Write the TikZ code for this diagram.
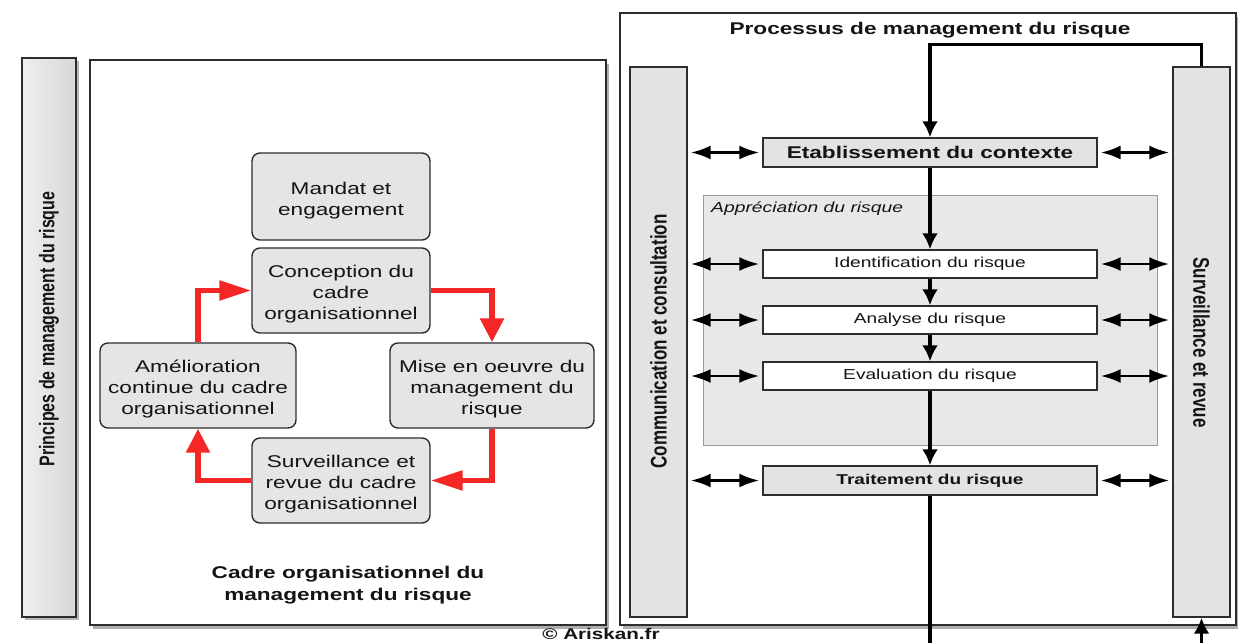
\documentclass[tikz,border=0pt]{standalone}
\usepackage{fontspec}
\setmainfont{Liberation Sans}
\usepackage{graphicx}
\usetikzlibrary{arrows.meta,shadows,calc}

\definecolor{cyclered}{RGB}{245,38,38}
\definecolor{inkline}{RGB}{45,45,45}

% the artwork is set in a widened sans serif
\newcommand{\stretchx}[1]{\scalebox{1.33}[1]{#1}}
\newcommand{\stretchv}[1]{\scalebox{1}[1.33]{#1}}
\newcommand{\lines}[1]{\begin{tabular}{@{}c@{}}#1\end{tabular}}
% box labels sit a little below the middle of their box
\newcommand{\cyclelines}[1]{\raisebox{-8.5pt}[0pt][0pt]{\lines{#1}}}
\newcommand{\boxfont}{\fontsize{17}{21}\selectfont}

\tikzset{
  panel/.style={draw=inkline, line width=1.5pt, fill=white,
    drop shadow={shadow xshift=3pt, shadow yshift=-4pt, opacity=0.45, fill=black!70}},
  sidebar/.style={draw=inkline, line width=1.4pt, fill=black!11, inner sep=0pt},
  cyclebox/.style={draw=inkline, line width=1.4pt, fill=black!10, rounded corners=8pt, inner sep=0pt},
  stagebox/.style={draw=inkline, line width=1.4pt, fill=black!11, inner sep=0pt, minimum width=334pt},
  substage/.style={draw=inkline, line width=1.4pt, fill=white, inner sep=0pt, minimum width=334pt, minimum height=28pt},
  flow/.style={line width=3.2pt, -{Latex[length=16pt,width=16pt]}},
  exchange/.style={line width=2.8pt, {Latex[length=20pt,width=14pt]}-{Latex[length=20pt,width=14pt]},
    shorten <=3pt, shorten >=3pt},
  cyclevert/.style={draw=cyclered, line width=5.5pt, -{Triangle[length=24pt,width=23pt]}},
  cyclehoriz/.style={draw=cyclered, line width=5.5pt, -{Triangle[length=32pt,width=19pt]}},
}

\begin{document}
\begin{tikzpicture}[x=1pt, y=-1pt, every node/.style={text=black!92}]
\useasboundingbox (0,0) rectangle (1238,642);
\fill[white] (0,0) rectangle (1238,642);

% ---------- left part: principles and framework ----------
\node[sidebar, minimum width=54pt, minimum height=559pt,
  drop shadow={shadow xshift=3pt, shadow yshift=-3pt, opacity=0.4, fill=black!70},
  left color=black!6, right color=black!16] (principes) at (49,337.5) {};
\node[rotate=90] (principestxt) at (49,329)
  {\stretchv{\fontsize{16}{19}\selectfont\bfseries Principes de management du risque}};

\node[panel, minimum width=516pt, minimum height=565pt, inner sep=0pt] (cadre) at (348,342.5) {};

\node[cyclebox, minimum width=178pt, minimum height=87pt] (mandat) at (341,196.5)
  {\stretchx{\boxfont\cyclelines{Mandat et\\engagement}}};
\node[cyclebox, minimum width=178pt, minimum height=85pt] (conception) at (341,290.5)
  {\stretchx{\boxfont\cyclelines{Conception du\\cadre\\organisationnel}}};
\node[cyclebox, minimum width=196pt, minimum height=85pt] (amelioration) at (198,385.5)
  {\stretchx{\boxfont\cyclelines{Amélioration\\continue du cadre\\organisationnel}}};
\node[cyclebox, minimum width=204pt, minimum height=85pt] (miseoeuvre) at (492,385.5)
  {\stretchx{\boxfont\cyclelines{Mise en oeuvre du\\management du\\risque}}};
\node[cyclebox, minimum width=178pt, minimum height=85pt] (surveillancecadre) at (341,480.5)
  {\stretchx{\boxfont\cyclelines{Surveillance et\\revue du cadre\\organisationnel}}};

\draw[cyclehoriz] (amelioration.north) |- (conception.west);
\draw[cyclevert] (conception.east) -| (miseoeuvre.north);
\draw[cyclehoriz] (miseoeuvre.south) |- (surveillancecadre.east);
\draw[cyclevert] (surveillancecadre.west) -| (amelioration.south);

\node (cadretitle) at (348,585)
  {\stretchx{\fontsize{17}{22}\selectfont\bfseries\lines{Cadre organisationnel du\\management du risque}}};

% ---------- right part: risk management process ----------
\node[panel, minimum width=616pt, minimum height=612pt, inner sep=0pt] (processus) at (928,319) {};
\node (processustitle) at (930,30)
  {\stretchx{\fontsize{17}{20}\selectfont\bfseries Processus de management du risque}};

\node[sidebar, minimum width=57pt, minimum height=550pt] (communication) at (658.5,342) {};
\node[rotate=90] (communicationtxt) at (658.5,341.5)
  {\stretchv{\fontsize{17}{20}\selectfont\bfseries Communication et consultation}};
\node[sidebar, minimum width=57pt, minimum height=550pt] (surveillance) at (1201.5,342) {};
\node[rotate=-90] (surveillancetxt) at (1201.5,342.5)
  {\stretchv{\fontsize{17}{20}\selectfont\bfseries Surveillance et revue}};

\node[draw=black!40, line width=0.8pt, fill=black!9, minimum width=454pt, minimum height=250pt,
  inner sep=0pt] (appreciation) at (930,320) {};
\node[anchor=west, inner sep=0pt] (appreciationtxt) at (711,209)
  {\stretchx{\fontsize{14.5}{17}\selectfont\itshape Appréciation du risque}};

\node[stagebox, minimum height=29pt] (contexte) at (930,152.5)
  {\stretchx{\fontsize{17}{20}\selectfont\bfseries Etablissement du contexte}};
\node[substage] (identification) at (930,264)
  {\stretchx{\fontsize{14.4}{17}\selectfont Identification du risque}};
\node[substage] (analyse) at (930,320)
  {\stretchx{\fontsize{14.4}{17}\selectfont Analyse du risque}};
\node[substage] (evaluation) at (930,376)
  {\stretchx{\fontsize{14.4}{17}\selectfont Evaluation du risque}};
\node[stagebox, minimum height=29pt] (traitement) at (930,480.5)
  {\stretchx{\fontsize{14.3}{17}\selectfont\bfseries Traitement du risque}};

% main flow
\draw[flow] (surveillance.north) -- ++(0,-22) -| (contexte.north);
\draw[flow] (contexte.south) -- (identification.north);
\draw[flow] (identification.south) -- (analyse.north);
\draw[flow] (analyse.south) -- (evaluation.north);
\draw[flow] (evaluation.south) -- (traitement.north);
\coordinate (flowout) at (930,648);
\draw[line width=3.2pt] (traitement.south) -- (flowout);
\coordinate (flowin) at (1201.5,648);
\draw[flow] (flowin) -- (surveillance.south);

% exchanges with both side bars
\foreach \stage in {contexte,identification,analyse,evaluation,traitement}{
  \draw[exchange] (\stage.west -| communication.east) -- (\stage.west);
  \draw[exchange] (\stage.east) -- (\stage.east -| surveillance.west);
}

\node[anchor=base, inner sep=0pt] (credit) at (601,639.5)
  {\stretchx{\fontsize{15.5}{18}\selectfont\bfseries © Ariskan.fr}};
\end{tikzpicture}
\end{document}
